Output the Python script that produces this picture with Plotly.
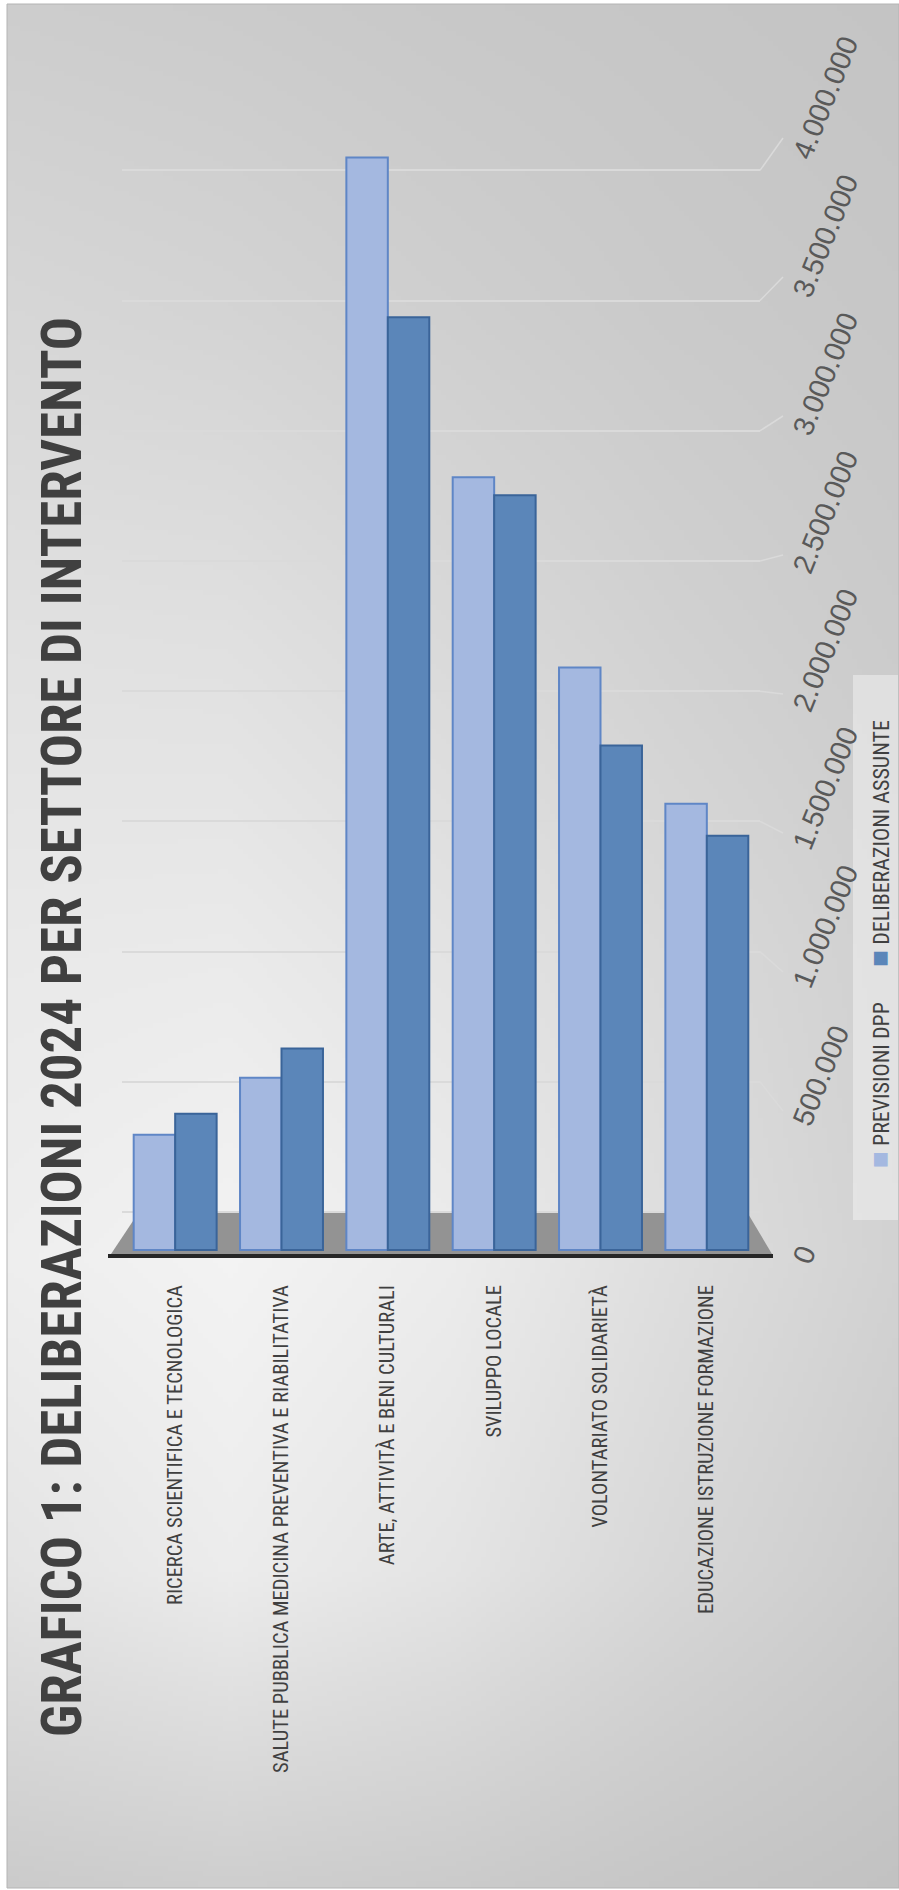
import base64, struct, zlib
import numpy as np
import plotly.graph_objects as go

# ---------------- data ----------------
categories = [
    "RICERCA SCIENTIFICA E TECNOLOGICA",
    "SALUTE PUBBLICA MEDICINA PREVENTIVA E RIABILITATIVA",
    "ARTE, ATTIVITÀ E BENI CULTURALI",
    "SVILUPPO LOCALE",
    "VOLONTARIATO SOLIDARIETÀ",
    "EDUCAZIONE ISTRUZIONE FORMAZIONE",
]
previsioni_dpp = [415000, 620000, 3930000, 2780000, 2095000, 1605000]
deliberazioni_assunte = [490000, 725000, 3355000, 2715000, 1815000, 1490000]
series_names = ["PREVISIONI DPP", "DELIBERAZIONI ASSUNTE"]
value_ticks = [0, 500000, 1000000, 1500000, 2000000, 2500000, 3000000, 3500000, 4000000]
title_text = "GRAFICO 1: DELIBERAZIONI 2024 PER SETTORE DI INTERVENTO"

# ---------------- layout geometry (pixels) ----------------
W, H = 899, 1890
L, R, T, B = 122, 139, 100, 610
PW, PH = W - L - R, H - T - B
BOTTOM_PX = H - B
Y0_PX, PX_PER_500K = 1250, 139.0          # bars (front faces)
BACK0_PX, BACK_PX_PER_500K = 1212, 130.2  # back-wall gridlines
LAB0_PX, LAB_PX_PER_500K = 1265, 138.1    # front tick labels


def v_at(px, zero, step):
    return (zero - px) / step * 500000


def px_at(v, zero, step):
    return zero - v / 500000 * step


def rng(zero, step):
    return [v_at(BOTTOM_PX, zero, step), v_at(T, zero, step)]


def px2paper_x(px):
    return (px - L) / PW


def px2paper_y(py):
    return (H - B - py) / PH


LIGHT_FILL, LIGHT_LINE = "#a4b8e0", "#5f86c6"
DARK_FILL, DARK_LINE = "#5b86b9", "#3a6499"
GRID_COLOR = "rgba(218,218,218,1)"
TEXT_COLOR = "#404040"
NARROW = "Liberation Sans Narrow, Arial Narrow, Roboto Condensed, Liberation Sans, sans-serif"

# ---------------- background gradient image ----------------
BG_GRID = np.array([
    [205, 203, 200, 198, 196],
    [215, 212, 207, 202, 199],
    [225, 224, 217, 209, 203],
    [233, 234, 227, 217, 208],
    [238, 243, 236, 222, 210],
    [228, 236, 228, 215, 204],
    [203, 206, 203, 198, 194],
], dtype=float)


def make_png(grid, w=180, h=378):
    cols = np.linspace(0, 1, grid.shape[1])
    rows = np.linspace(0, 1, grid.shape[0])
    xs = np.linspace(0, 1, w)
    ys = np.linspace(0, 1, h)
    gx = np.array([np.interp(xs, cols, r) for r in grid])
    img = np.array([np.interp(ys, rows, gx[:, j]) for j in range(w)]).T
    img = np.clip(np.round(img), 0, 255).astype(np.uint8)
    raw = b"".join(b"\x00" + img[i].tobytes() for i in range(h))

    def chunk(tag, data):
        return struct.pack(">I", len(data)) + tag + data + struct.pack(">I", zlib.crc32(tag + data) & 0xffffffff)

    png = b"\x89PNG\r\n\x1a\n" + chunk(b"IHDR", struct.pack(">IIBBBBB", w, h, 8, 0, 0, 0, 0)) \
        + chunk(b"IDAT", zlib.compress(raw, 9)) + chunk(b"IEND", b"")
    return "data:image/png;base64," + base64.b64encode(png).decode()


bg_src = make_png(BG_GRID)

# ---------------- figure ----------------
fig = go.Figure()
fig.add_trace(go.Bar(
    x=categories, y=previsioni_dpp, name=series_names[0],
    marker=dict(color=LIGHT_FILL, line=dict(color=LIGHT_LINE, width=2)),
    showlegend=False,
))
fig.add_trace(go.Bar(
    x=categories, y=deliberazioni_assunte, name=series_names[1],
    marker=dict(color=DARK_FILL, line=dict(color=DARK_LINE, width=2)),
    showlegend=False,
))
# transparent helper traces so the gridline axis (y2) and label axis (y3) are drawn
for ax in ("y2", "y3"):
    fig.add_trace(go.Scatter(
        x=categories, y=previsioni_dpp, yaxis=ax, mode="markers",
        marker=dict(opacity=0, size=1), hoverinfo="skip", showlegend=False,
    ))

# floor (grey trapezoid) and front edge
floor_path = "M {:.4f},{:.4f} L {:.4f},{:.4f} L {:.4f},{:.4f} L {:.4f},{:.4f} Z".format(
    px2paper_x(111), px2paper_y(1254), px2paper_x(772), px2paper_y(1254),
    px2paper_x(747), px2paper_y(1212), px2paper_x(139), px2paper_y(1212))
shapes = [
    dict(type="path", path=floor_path, xref="paper", yref="paper",
         fillcolor="#939393", line=dict(width=0), layer="below"),
    dict(type="line", xref="paper", yref="paper",
         x0=px2paper_x(108), x1=px2paper_x(773), y0=px2paper_y(1256), y1=px2paper_y(1256),
         line=dict(color="#262626", width=4), layer="below"),
    # legend box
    dict(type="rect", xref="paper", yref="paper",
         x0=px2paper_x(853), x1=px2paper_x(898), y0=px2paper_y(1220), y1=px2paper_y(675),
         fillcolor="rgba(240,240,240,0.55)", line=dict(width=0), layer="below"),
    # outer frame
    dict(type="rect", xref="paper", yref="paper",
         x0=px2paper_x(7), x1=px2paper_x(899), y0=px2paper_y(1888), y1=px2paper_y(4),
         fillcolor="rgba(0,0,0,0)", line=dict(color="#b4b4b4", width=1), layer="below"),
]
# diagonal connectors from the back-wall gridlines to the front tick positions
for v in value_ticks[1:]:
    shapes.append(dict(
        type="line", xref="paper", yref="paper",
        x0=px2paper_x(760), y0=px2paper_y(px_at(v, BACK0_PX, BACK_PX_PER_500K)),
        x1=px2paper_x(783), y1=px2paper_y(px_at(v, Y0_PX, PX_PER_500K)),
        line=dict(color=GRID_COLOR, width=1.5), layer="below"))

sq = '<span style="color:{};font-size:28px">■</span>'
legend_text = sq.format(LIGHT_FILL) + " " + series_names[0] + "       " + sq.format(DARK_FILL) + " " + series_names[1]

annotations = [
    dict(text="<b>" + title_text + "</b>", xref="paper", yref="paper",
         x=px2paper_x(62), y=px2paper_y(1027), xanchor="center", yanchor="middle",
         textangle=-90, showarrow=False,
         font=dict(family=NARROW, size=55, color=TEXT_COLOR)),
    dict(text=legend_text, xref="paper", yref="paper",
         x=px2paper_x(879), y=px2paper_y(944), xanchor="center", yanchor="middle",
         textangle=-90, showarrow=False,
         font=dict(family=NARROW, size=22, color=TEXT_COLOR)),
]

fig.update_layout(
    width=W, height=H,
    margin=dict(l=L, r=R, t=T, b=B, autoexpand=False),
    paper_bgcolor="white",
    plot_bgcolor="rgba(0,0,0,0)",
    barmode="group", bargap=0.22, bargroupgap=0.0,
    separators=",.",
    shapes=shapes,
    annotations=annotations,
    images=[dict(source=bg_src, xref="paper", yref="paper",
                 x=px2paper_x(7), y=px2paper_y(4),
                 sizex=(W - 7) / PW, sizey=(H - 6) / PH,
                 xanchor="left", yanchor="top", sizing="stretch", layer="below")],
    xaxis=dict(
        tickangle=-90, showgrid=False, showline=False, zeroline=False, ticks="",
        ticklabelstandoff=0,
        tickfont=dict(family=NARROW, size=20.5, color=TEXT_COLOR),
    ),
    yaxis=dict(
        side="right", range=rng(Y0_PX, PX_PER_500K),
        showticklabels=False, showgrid=False, zeroline=False, showline=False, ticks="",
    ),
    yaxis2=dict(
        overlaying="y", side="left", anchor="x", range=rng(BACK0_PX, BACK_PX_PER_500K),
        tickvals=value_ticks, showticklabels=False, showgrid=True,
        gridcolor=GRID_COLOR, gridwidth=2, zeroline=False, showline=False, ticks="",
    ),
    yaxis3=dict(
        overlaying="y", side="right", anchor="x", range=rng(LAB0_PX, LAB_PX_PER_500K),
        tickvals=value_ticks, tickformat=",d", showgrid=False, zeroline=False, showline=False,
        ticks="", tickangle=-68, ticklabelstandoff=36,
        tickfont=dict(family="Liberation Sans, Arial, sans-serif", size=29, color="#595959"),
    ),
)

fig.write_html("out.html")
